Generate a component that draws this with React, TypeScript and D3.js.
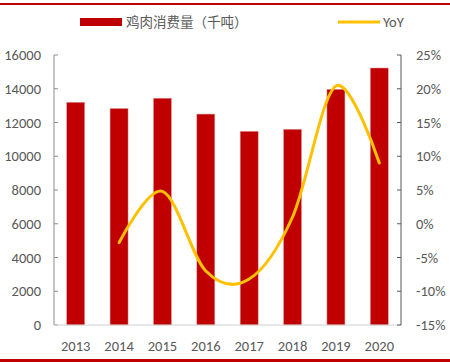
import React from "react";
import * as d3 from "d3";

const years = ["2013", "2014", "2015", "2016", "2017", "2018", "2019", "2020"];
const consumption = [13200, 12830, 13440, 12500, 11480, 11600, 13970, 15230];
const yoyYears = ["2014", "2015", "2016", "2017", "2018", "2019", "2020"];
const yoy = [-2.8, 4.8, -7.0, -8.2, 1.0, 20.4, 9.0];
const leftTicks = [0, 2000, 4000, 6000, 8000, 10000, 12000, 14000, 16000];
const rightTicks = [-15, -10, -5, 0, 5, 10, 15, 20, 25];

const W = 450, H = 362;
const L = 54, R = 401, T = 55, B = 325;
const font = "Calibri, Carlito, 'Liberation Sans', Arial, sans-serif";
const txt = "#595959";
const fs = 14.5;

export default function App() {
  const x = d3.scaleBand().domain(years).range([L, R]).paddingInner(0.585).paddingOuter(0.2925);
  const yL = d3.scaleLinear().domain([0, 16000]).range([B, T]);
  const yR = d3.scaleLinear().domain([-15, 25]).range([B, T]);
  const line = d3
    .line<number>()
    .x((_, i) => (x(yoyYears[i]) as number) + x.bandwidth() / 2)
    .y((d) => yR(d))
    .curve(d3.curveCardinal.tension(0));

  return (
    <svg width={W} height={H} style={{ position: "absolute", left: 0, top: 0 }} fontFamily={font}>
      <rect x={0} y={0} width={W} height={H} fill="#fff" />
      <rect x={0} y={3} width={W} height={2} fill="#C00000" />
      <rect x={0} y={359} width={W} height={3} fill="#C00000" />

      {/* legend */}
      <rect x={80} y={18} width={42} height={8} fill="#C00000" />
      <text x={126} y={27} fontSize={13.5} fill={txt} fontFamily="'Noto Sans CJK SC', sans-serif">
        鸡肉消费量（千吨）
      </text>
      <line x1={338} x2={380} y1={22} y2={22} stroke="#FFC000" strokeWidth={3} />
      <text x={383} y={27} fontSize={fs} fill={txt}>YoY</text>

      {/* bars */}
      {years.map((yr, i) => (
        <rect
          key={yr}
          x={x(yr)}
          y={yL(consumption[i])}
          width={x.bandwidth()}
          height={B - yL(consumption[i])}
          fill="#C00000"
          stroke="#e8a0a0"
          strokeWidth={0.5}
        />
      ))}

      {/* axes */}
      <line x1={L} x2={L} y1={T} y2={B} stroke="#8c8c8c" />
      {leftTicks.map((t) => (
        <g key={t}>
          <line x1={L} x2={L + 4} y1={yL(t)} y2={yL(t)} stroke="#8c8c8c" />
          <text x={41} y={yL(t) + 5} fontSize={fs} fill={txt} textAnchor="end">{t}</text>
        </g>
      ))}
      <line x1={L} x2={R} y1={B} y2={B} stroke="#d0d0d0" />
      <line x1={R} x2={R} y1={T} y2={B} stroke="#595959" />
      {rightTicks.map((t) => (
        <g key={t}>
          <line x1={R - 4} x2={R} y1={yR(t)} y2={yR(t)} stroke="#595959" />
          <text x={416} y={yR(t) + 5} fontSize={fs} fill={txt}>{t}%</text>
        </g>
      ))}
      {years.map((yr) => (
        <text key={yr} x={(x(yr) as number) + x.bandwidth() / 2} y={351} fontSize={fs} fill={txt} textAnchor="middle">
          {yr}
        </text>
      ))}

      <path d={line(yoy) || ""} fill="none" stroke="#FFC000" strokeWidth={3} strokeLinecap="round" />
    </svg>
  );
}
